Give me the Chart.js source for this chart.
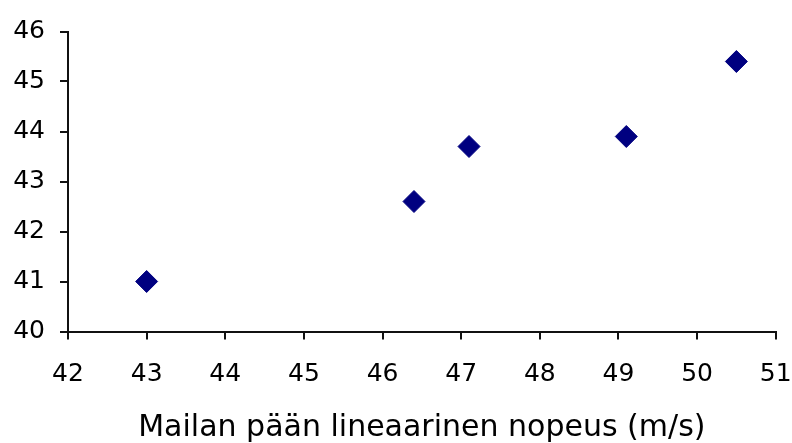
<!DOCTYPE html>
<html>
<head>
<meta charset="utf-8">
<script src="https://cdn.jsdelivr.net/npm/chart.js@4/dist/chart.umd.min.js"></script>
<style>
    html, body { margin: 0; padding: 0; background: #fff; }
    #wrap { width: 792px; height: 443px; }
</style>
</head>
<body>
<div id="wrap"><canvas id="graph" width="792" height="443"></canvas></div>
<script>
    // values
    var speeds = [43, 46.4, 47.1, 49.1, 50.5];
    var results = [41, 42.6, 43.7, 43.9, 45.4];
    var xTicks = [42, 43, 44, 45, 46, 47, 48, 49, 50, 51];
    var yTicks = [40, 41, 42, 43, 44, 45, 46];
    var xTitle = 'Mailan pään lineaarinen nopeus (m/s)';

    var points = speeds.map(function (s, i) {
        return {x: s, y: results[i]};
    });

    var axisColor = '#111';
    var fontFamily = 'DejaVu Sans, Arial, sans-serif';

    var config = {
        type: 'scatter',
        data: {
            datasets: [{
                data: points,
                pointStyle: 'rectRot',
                pointRadius: 11,
                pointHoverRadius: 11,
                borderWidth: 1,
                backgroundColor: '#000080',
                borderColor: '#000080'
            }]
        },
        options: {
            responsive: false,
            animation: false,
            plugins: {
                legend: {display: false},
                tooltip: {enabled: false}
            },
            layout: {
                padding: {top: 31.5, right: 16.3, left: 0, bottom: 0}
            },
            scales: {
                x: {
                    type: 'linear',
                    min: xTicks[0],
                    max: xTicks[xTicks.length - 1],
                    afterBuildTicks: function (axis) {
                        axis.ticks = xTicks.map(function (v) { return {value: v}; });
                    },
                    afterFit: function (axis) {
                        axis.height = 111.5;
                        axis.paddingLeft = 0;
                        axis.paddingRight = 0;
                    },
                    grid: {
                        drawOnChartArea: false,
                        drawTicks: true,
                        tickLength: 8,
                        color: axisColor,
                        lineWidth: 2
                    },
                    border: {display: true, color: axisColor, width: 2},
                    ticks: {
                        color: '#000',
                        padding: 20,
                        maxRotation: 0,
                        font: {family: fontFamily, size: 25}
                    },
                    title: {
                        display: true,
                        text: xTitle,
                        color: '#000',
                        padding: {top: 0, bottom: -3},
                        font: {family: fontFamily, size: 30}
                    }
                },
                y: {
                    type: 'linear',
                    min: yTicks[0],
                    max: yTicks[yTicks.length - 1],
                    afterBuildTicks: function (axis) {
                        axis.ticks = yTicks.map(function (v) { return {value: v}; });
                    },
                    afterFit: function (axis) {
                        axis.width = 68;
                        axis.paddingTop = 0;
                        axis.paddingBottom = 0;
                    },
                    grid: {
                        drawOnChartArea: false,
                        drawTicks: true,
                        tickLength: 8,
                        color: axisColor,
                        lineWidth: 2
                    },
                    border: {display: true, color: axisColor, width: 2},
                    ticks: {
                        color: '#000',
                        padding: 15,
                        font: {family: fontFamily, size: 25}
                    }
                }
            }
        }
    };

    new Chart(document.getElementById('graph').getContext('2d'), config);
</script>
</body>
</html>
